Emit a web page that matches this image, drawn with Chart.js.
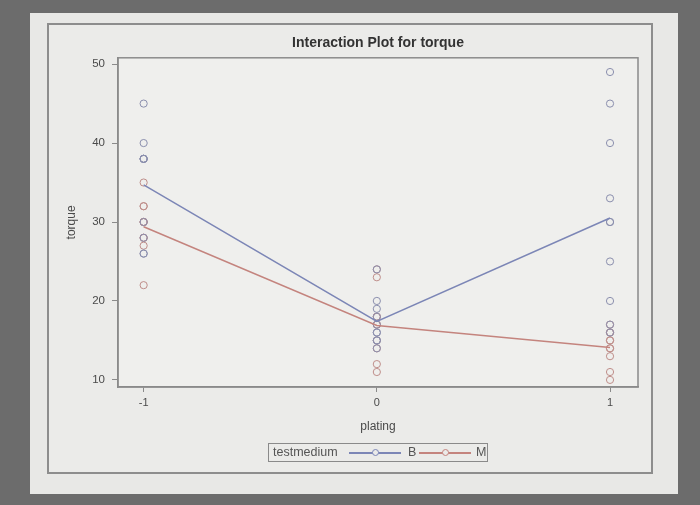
<!DOCTYPE html>
<html>
<head>
<meta charset="utf-8">
<script src="https://cdn.jsdelivr.net/npm/chart.js@4.4.1/dist/chart.umd.min.js"></script>
<style>
  body { margin: 0; width: 700px; height: 505px; background: #6c6c6c; position: relative; overflow: hidden; font-family: "Liberation Sans", Arial, sans-serif; }
  #page { position: absolute; left: 30px; top: 13px; width: 648px; height: 481px; background: #e8e8e6; }
  #frame { position: absolute; left: 47px; top: 23px; width: 602px; height: 447px; border: 2px solid #8d8d8d; background: #ebebe9; }
  #wrap { position: absolute; left: 0; top: 0; width: 700px; height: 505px; }
  #legend { position: absolute; left: 268px; top: 443px; width: 218px; height: 17px; border: 1px solid #8a8a8a; font-size: 12.5px; color: #555; }
  #legend span { position: absolute; top: 1px; }
  .lg-line { position: absolute; top: 8px; height: 2px; width: 52px; }
  .lg-dot { position: absolute; top: 5px; width: 7px; height: 7px; border-radius: 50%; border: 1px solid; box-sizing: border-box; background: #ebebe9; }
</style>
</head>
<body>
<div id="page"></div>
<div id="frame"></div>
<div id="wrap"><canvas id="chart" width="700" height="505"></canvas></div>
<div id="legend">
  <span style="left:4px">testmedium</span>
  <div class="lg-line" style="left:80px;background:#7c86b6"></div>
  <div class="lg-dot" style="left:103px;border-color:#7c86b6"></div>
  <span style="left:139px">B</span>
  <div class="lg-line" style="left:150px;background:#c4847e"></div>
  <div class="lg-dot" style="left:173px;border-color:#c4847e"></div>
  <span style="left:207px">M</span>
</div>
<script>
// plating levels (x) and testmedium groups
const platingLevels = [-1, 0, 1];
const yTicks = [10, 20, 30, 40, 50];

// torque observations per plating level
const torqueB = {
  '-1': [26, 40, 28, 38, 38, 30, 26, 38, 45, 38],
  '0':  [20, 16, 17, 18, 15, 16, 19, 14, 15, 24],
  '1':  [25, 40, 30, 17, 16, 45, 49, 33, 30, 20]
};
const torqueM = {
  '-1': [32, 22, 30, 35, 32, 28, 27, 28, 30, 30],
  '0':  [24, 18, 17, 17, 15, 23, 14, 18, 12, 11],
  '1':  [10, 13, 17, 16, 15, 14, 11, 14, 15, 16]
};

// cell means (interaction lines)
const meanB = [34.7, 17.4, 30.5];
const meanM = [29.4, 16.9, 14.1];

const colB = '#7c86b6';
const colM = '#c4847e';
const axisCol = '#8a8a8a';
const textCol = '#4a4a4a';

function toPoints(obj) {
  const pts = [];
  platingLevels.forEach(p => {
    obj[String(p)].forEach(v => pts.push({ x: p, y: v }));
  });
  return pts;
}

const plotBg = {
  id: 'plotBg',
  beforeDraw(chart) {
    const a = chart.chartArea, ctx = chart.ctx;
    ctx.save();
    ctx.fillStyle = '#efefed';
    ctx.fillRect(a.left, a.top, a.right - a.left, a.bottom - a.top);
    ctx.restore();
  },
  afterDraw(chart) {
    const a = chart.chartArea, ctx = chart.ctx;
    ctx.save();
    ctx.strokeStyle = axisCol;
    ctx.lineWidth = 1.5;
    ctx.strokeRect(a.left, a.top, a.right - a.left, a.bottom - a.top);
    ctx.restore();
  }
};

new Chart(document.getElementById('chart'), {
  type: 'scatter',
  data: {
    datasets: [
      {
        label: 'B',
        data: platingLevels.map((p, i) => ({ x: p, y: meanB[i] })),
        showLine: true, borderColor: colB, borderWidth: 1.5,
        pointRadius: 0, order: 1
      },
      {
        label: 'M',
        data: platingLevels.map((p, i) => ({ x: p, y: meanM[i] })),
        showLine: true, borderColor: colM, borderWidth: 1.5,
        pointRadius: 0, order: 1
      },
      {
        label: 'B obs',
        data: toPoints(torqueB),
        borderColor: '#8b8fae', backgroundColor: 'rgba(0,0,0,0)',
        pointRadius: 3.6, borderWidth: 1, order: 2
      },
      {
        label: 'M obs',
        data: toPoints(torqueM),
        borderColor: '#bf8e8a', backgroundColor: 'rgba(0,0,0,0)',
        pointRadius: 3.6, borderWidth: 1, order: 2
      }
    ]
  },
  options: {
    responsive: false,
    animation: false,
    layout: { padding: { left: 64, right: 62, top: 35, bottom: 67 } },
    plugins: {
      legend: { display: false },
      tooltip: { enabled: false },
      title: {
        display: true,
        text: 'Interaction Plot for torque',
        color: '#333',
        font: { family: 'Liberation Sans', size: 14, weight: 'bold' },
        padding: { top: 0, bottom: 6 },
        fullSize: false
      }
    },
    scales: {
      x: {
        type: 'linear', min: -1.11, max: 1.12,
        afterBuildTicks: s => { s.ticks = platingLevels.map(v => ({ value: v })); },
        afterFit: s => { s.height = 51; },
        grid: { display: true, drawOnChartArea: false, drawTicks: true, tickLength: 5, color: axisCol },
        border: { display: true, color: axisCol, width: 1.5 },
        ticks: { color: textCol, font: { family: 'Liberation Sans', size: 11 }, padding: 4 },
        title: { display: true, text: 'plating', color: textCol, font: { family: 'Liberation Sans', size: 12 }, padding: { top: 4, bottom: 4 } }
      },
      y: {
        min: 9.1, max: 50.8,
        afterBuildTicks: s => { s.ticks = yTicks.map(v => ({ value: v })); },
        afterFit: s => { s.width = 54; },
        grid: { display: true, drawOnChartArea: false, drawTicks: true, tickLength: 6, color: axisCol },
        border: { display: true, color: axisCol, width: 1.5 },
        ticks: { color: textCol, font: { family: 'Liberation Sans', size: 11.5 }, padding: 7 },
        title: { display: true, text: 'torque', color: textCol, font: { family: 'Liberation Sans', size: 12 }, padding: { top: 0, bottom: 0 } }
      }
    }
  },
  plugins: [plotBg]
});
</script>
</body>
</html>
